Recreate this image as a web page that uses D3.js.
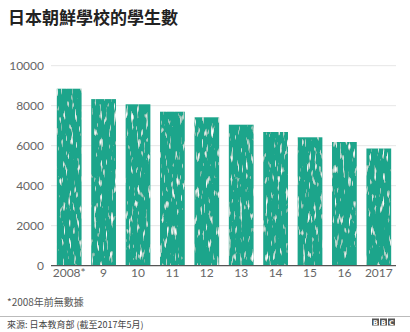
<!DOCTYPE html>
<html><head><meta charset="utf-8">
<script src="https://cdn.jsdelivr.net/npm/d3@7"></script>
<style>
html,body{margin:0;padding:0;background:#fff;}
svg{display:block;}
</style></head>
<body>
<svg id="c" width="410" height="332"></svg>
<script>
const categories = ["2008*","9","10","11","12","13","14","15","16","2017"];
const students = [8850,8330,8070,7700,7420,7050,6685,6420,6185,5860];
const yTicks = [0,2000,4000,6000,8000,10000];
const title = "日本朝鮮學校的學生數";
const footnote = "*2008年前無數據";
const source = "來源: 日本教育部 (截至2017年5月)";

const svg = d3.select("#c");
const cjk = "'Noto Sans CJK TC','Noto Sans CJK SC',sans-serif";
const latin = "Lato,'Noto Sans',sans-serif";

// subtle texture for bars: sparse light vertical streaks
const defs = svg.append("defs");
const f = defs.append("filter").attr("id","tex").attr("x",0).attr("y",0).attr("width",1).attr("height",1);
f.append("feTurbulence").attr("type","fractalNoise").attr("baseFrequency","0.35 0.08").attr("numOctaves",2).attr("seed",5).attr("result","n");
f.append("feColorMatrix").attr("in","n").attr("type","matrix")
  .attr("values","0 0 0 0 1  0 0 0 0 1  0 0 0 0 1  5 0 0 0 -3.1").attr("result","w");
f.append("feComposite").attr("in","w").attr("in2","SourceGraphic").attr("operator","in").attr("result","wc");
f.append("feMerge").call(m=>{m.append("feMergeNode").attr("in","SourceGraphic");m.append("feMergeNode").attr("in","wc");});

svg.append("text").attr("x",8).attr("y",24)
  .attr("font-family",cjk).attr("font-weight","bold").attr("font-size",17)
  .attr("fill","#222").text(title);

const x = d3.scaleBand().domain(categories).range([52,396]).paddingInner(0.28).paddingOuter(0.14);
const y = d3.scaleLinear().domain([0,10000]).range([265.7,65.7]);

// gridlines
svg.append("g").selectAll("line").data(yTicks.filter(d=>d>0)).join("line")
  .attr("x1",51).attr("x2",396).attr("y1",d=>y(d)).attr("y2",d=>y(d))
  .attr("stroke","#e6e6e6").attr("stroke-width",1);

// y labels
svg.append("g").selectAll("text").data(yTicks).join("text")
  .attr("x",44).attr("y",d=>y(d)).attr("dy","0.35em").attr("text-anchor","end")
  .attr("font-family",latin).attr("font-size",12).attr("fill","#666")
  .text(d=>d);

// bars
svg.append("g").selectAll("rect").data(students).join("rect")
  .attr("x",(d,i)=>x(categories[i])).attr("width",x.bandwidth())
  .attr("y",d=>y(d)).attr("height",d=>y(0)-y(d))
  .attr("fill","#1fa58b").attr("filter","url(#tex)");

// baseline
svg.append("line").attr("x1",51).attr("x2",396).attr("y1",y(0)).attr("y2",y(0))
  .attr("stroke","#555").attr("stroke-width",1.2);

// x labels
svg.append("g").selectAll("text").data(categories).join("text")
  .attr("x",d=>x(d)+x.bandwidth()/2).attr("y",277).attr("text-anchor","middle")
  .attr("font-family",latin).attr("font-size",12).attr("fill","#666")
  .text(d=>d);

// footnote
svg.append("text").attr("x",7).attr("y",306)
  .attr("font-family",cjk).attr("font-size",10).attr("fill","#555").text(footnote);

svg.append("line").attr("x1",0).attr("x2",410).attr("y1",316.5).attr("y2",316.5)
  .attr("stroke","#bbb").attr("stroke-width",1);

svg.append("text").attr("x",7).attr("y",328)
  .attr("font-family",cjk).attr("font-size",9).attr("fill","#444").text(source);

// BBC logo
const logo = svg.append("g").attr("transform","translate(372,318.5)");
["B","B","C"].forEach((t,i)=>{
  logo.append("rect").attr("x",i*8).attr("y",0).attr("width",7).attr("height",7).attr("fill","#555");
  logo.append("text").attr("x",i*8+3.5).attr("y",6).attr("text-anchor","middle")
    .attr("font-family","'DejaVu Sans',sans-serif").attr("font-weight","bold").attr("font-size",6.5)
    .attr("fill","#fff").text(t);
});
</script>
</body></html>
